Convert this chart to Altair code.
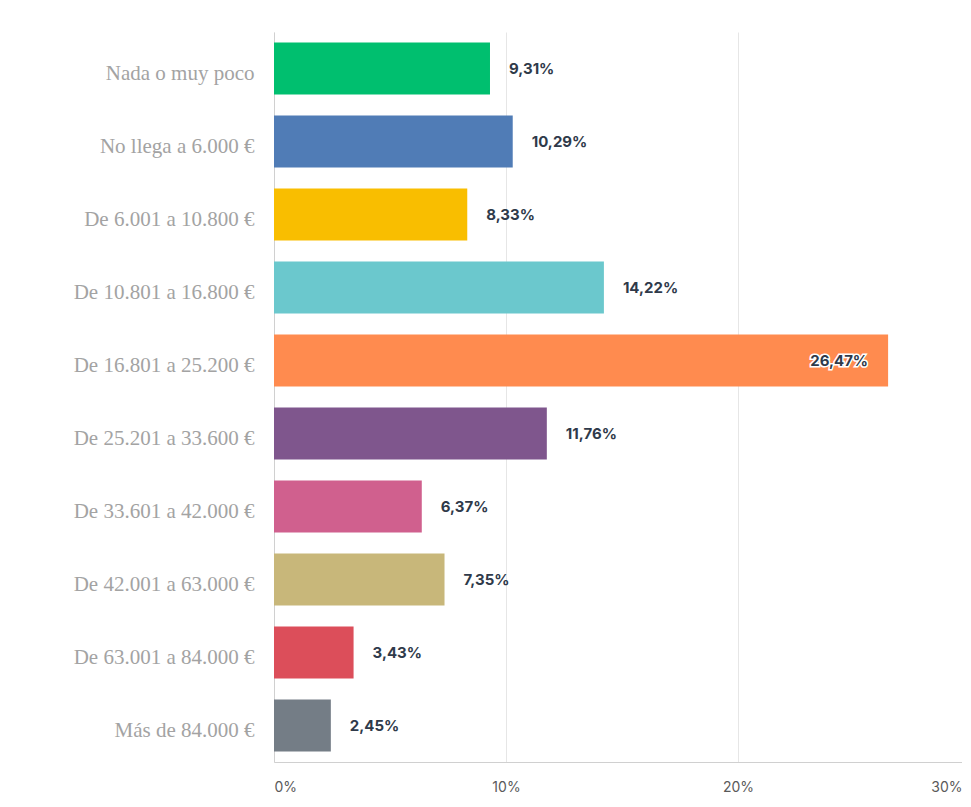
import altair as alt
import pandas as pd

categories = [
    "Nada o muy poco",
    "No llega a 6.000 €",
    "De 6.001 a 10.800 €",
    "De 10.801 a 16.800 €",
    "De 16.801 a 25.200 €",
    "De 25.201 a 33.600 €",
    "De 33.601 a 42.000 €",
    "De 42.001 a 63.000 €",
    "De 63.001 a 84.000 €",
    "Más de 84.000 €",
]
values = [9.31, 10.29, 8.33, 14.22, 26.47, 11.76, 6.37, 7.35, 3.43, 2.45]
colors = ["#00bf6f", "#507cb6", "#f9be00", "#6bc8cd", "#ff8b4f",
          "#7f568d", "#d0608e", "#c8b77a", "#dc4e5a", "#747d86"]
inside = [False, False, False, False, True, False, False, False, False, False]
x_ticks = [0, 10, 20, 30]

df = pd.DataFrame({
    "cat": categories,
    "val": values,
    "color": colors,
    "inside": inside,
    "label": [f"{v:.2f}".replace(".", ",") + "%" for v in values],
})

y_enc = alt.Y("cat:N", sort=categories, title=None,
              scale=alt.Scale(paddingInner=0.29, paddingOuter=0.145),
              axis=alt.Axis(labelFont="Liberation Serif", labelFontSize=21,
                            labelColor="#a3a3a3", labelPadding=20, ticks=False,
                            domainColor="#d0d0d0", labelOffset=5, grid=False,
                            labelLimit=400))
x_enc = alt.X("val:Q", title=None,
              scale=alt.Scale(domain=[0, 30], nice=False, range=[0, 696]),
              axis=alt.Axis(values=x_ticks, labelExpr="datum.value + '%'",
                            labelFont="Inter", labelFontSize=14, labelColor="#5a5a5a",
                            labelPadding=18, ticks=False, labelFlush=False,
                            labelAlign=alt.expr("datum.value == 0 ? 'left' : (datum.value == 30 ? 'right' : 'center')"),
                            labelOffset=alt.expr("datum.value == 30 ? -8 : 0"),
                            domainColor="#d0d0d0", gridColor="#e6e6e6"))

base = alt.Chart(df)

bars = base.mark_bar(cornerRadius=0).encode(
    x=x_enc, y=y_enc,
    color=alt.Color("color:N", scale=None),
)

outside_txt = base.transform_filter("!datum.inside").mark_text(
    align="left", dx=19, font="Inter", fontWeight="bold", fontSize=15,
    color="#2f3a4a"
).encode(x="val:Q", y=alt.Y("cat:N", sort=categories), text="label:N")

inside_halo = base.transform_filter("datum.inside").mark_text(
    align="right", dx=-20, font="Inter", fontWeight="bold", fontSize=15,
    color="white", stroke="white", strokeWidth=3
).encode(x="val:Q", y=alt.Y("cat:N", sort=categories), text="label:N")

inside_txt = base.transform_filter("datum.inside").mark_text(
    align="right", dx=-20, font="Inter", fontWeight="bold", fontSize=15,
    color="#2f3a4a"
).encode(x="val:Q", y=alt.Y("cat:N", sort=categories), text="label:N")

chart = alt.layer(bars, outside_txt, inside_halo, inside_txt).properties(
    width=688, height=730,
    autosize=alt.AutoSizeParams(type="none"),
    padding={"left": 266, "top": 24, "right": 0, "bottom": 36},
    background="white",
).configure_view(stroke=None)

chart.save("out.html", embed_options={"renderer": "svg", "actions": False})
